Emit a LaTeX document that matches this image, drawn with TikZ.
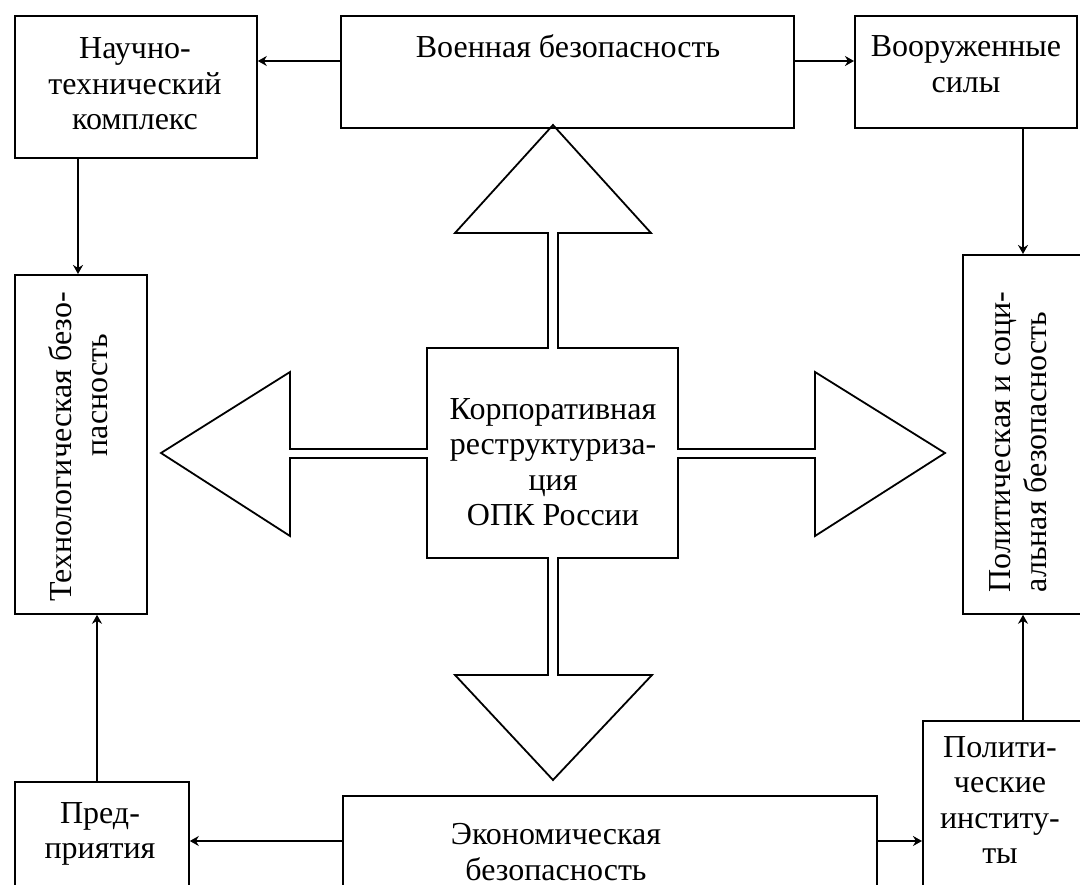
\documentclass[tikz,border=0pt]{standalone}
\usepackage{fontspec}
\setmainfont{Liberation Serif}
\newfontfamily\blockfont{Liberation Serif}
\usetikzlibrary{arrows.meta}
\begin{document}
\begin{tikzpicture}[x=1pt,y=-1pt,
  box/.style={draw, line width=1.8pt, anchor=north west, inner sep=0pt},
  txt/.style={font=\blockfont\fontsize{32}{35.5}\selectfont, align=center, inner sep=0pt},
  conn/.style={line width=1.6pt, -{Stealth[length=9pt,width=10pt]}},
  outline/.style={line width=1.8pt, line join=miter}]
\clip (0,0) rectangle (1080,885);
\fill[white] (0,0) rectangle (1080,885);

% outer blocks
\node[box, minimum width=242pt, minimum height=142pt] (sci)  at (14,15)  {};
\node[box, minimum width=453pt, minimum height=112pt] (mil)  at (340,15) {};
\node[box, minimum width=222pt, minimum height=112pt] (arm)  at (854,15) {};
\node[box, minimum width=132pt, minimum height=339pt] (tech) at (14,274) {};
\node[box, minimum width=122pt, minimum height=359pt] (pol)  at (962,254) {};
\node[box, minimum width=174pt, minimum height=120pt] (ent)  at (14,781) {};
\node[box, minimum width=534pt, minimum height=110pt] (eco)  at (342,795) {};
\node[box, minimum width=162pt, minimum height=180pt] (inst) at (922,720) {};

% central block with four hollow arrows, one outline
\draw[outline]
  (427,348) -- (548,348) -- (548,233) -- (455,233) -- (553,125) -- (651,233)
  -- (558,233) -- (558,348) -- (678,348) -- (678,449) -- (815,449) -- (815,372)
  -- (945,453) -- (815,536) -- (815,458) -- (678,458) -- (678,558) -- (558,558)
  -- (558,675) -- (652,675) -- (553,780) -- (455,675) -- (548,675) -- (548,558)
  -- (427,558) -- (427,458) -- (290,458) -- (290,536) -- (161,453) -- (290,372)
  -- (290,449) -- (427,449) -- cycle;

% labels
\node[txt] (sciT)  at (135,84) {Научно-\\технический\\комплекс};
\node[txt] (milT)  at (568,46) {Военная безопасность};
\node[txt] (armT)  at (966,64) {Вооруженные\\силы};
\node[txt, rotate=90, align=right] (techT) at (78,447) {Технологическая безо-\\пасность\hspace*{42pt}};
\node[txt, rotate=90, align=left] (polT) at (1018,442) {Политическая и соци-\\альная безопасность};
\node[txt] (coreT) at (553,462) {Корпоративная\\реструктуриза-\\ция\\ОПК России};
\node[txt] (entT)  at (100,834) {Пред-\\приятия};
\node[txt] (ecoT)  at (556,852) {Экономическая\\безопасность};
\node[txt] (instT) at (1000,800) {Полити-\\ческие\\институ-\\ты};

% links between blocks
\coordinate (r1) at (0,61);
\coordinate (r2) at (0,841);
\coordinate (c1) at (78,0);
\coordinate (c2) at (1023,0);
\coordinate (c3) at (97,0);
\draw[conn] (mil.west |- r1) -- (sci.east |- r1);
\draw[conn] (mil.east |- r1) -- (arm.west |- r1);
\draw[conn] (sci.south -| c1) -- (tech.north -| c1);
\draw[conn] (arm.south -| c2) -- (pol.north -| c2);
\draw[conn] (inst.north -| c2) -- (pol.south -| c2);
\draw[conn] (ent.north -| c3) -- (tech.south -| c3);
\draw[conn] (eco.west |- r2) -- (ent.east |- r2);
\draw[conn] (eco.east |- r2) -- (inst.west |- r2);
\end{tikzpicture}
\end{document}
